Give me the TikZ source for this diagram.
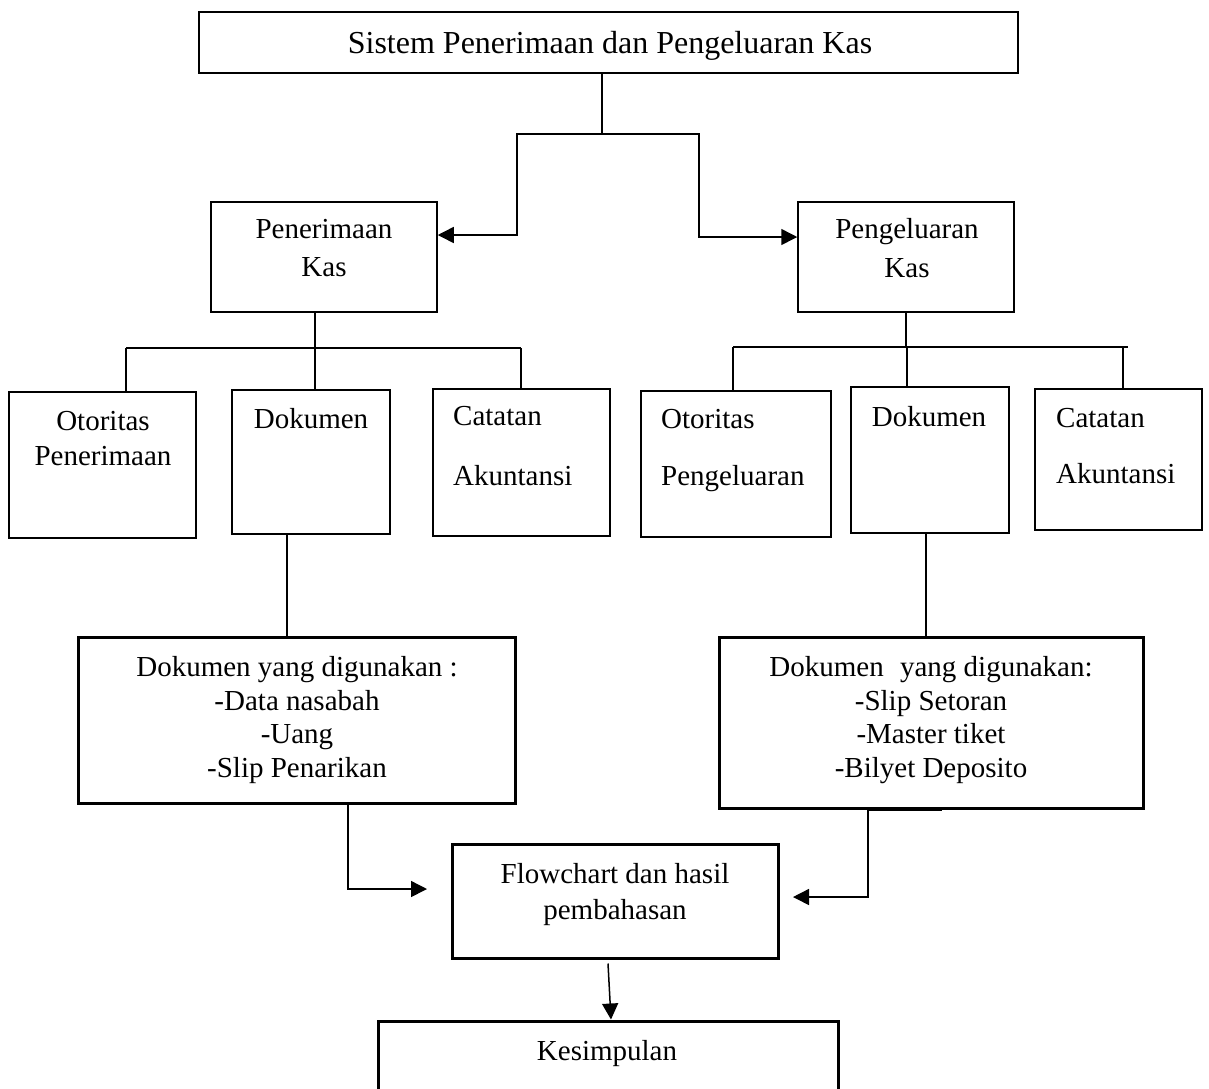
\documentclass[tikz,border=0pt]{standalone}
\usepackage{fontspec}
\setmainfont{Liberation Serif}
\usetikzlibrary{arrows.meta}
\begin{document}
\begin{tikzpicture}[x=1pt,y=-1pt,
  box/.style={draw, line width=1.5pt, inner sep=0pt},
  heavybox/.style={draw, line width=3pt, inner sep=0pt},
  txt/.style={inner sep=0pt, align=center, anchor=north, font=\fontsize{29}{34}\selectfont},
  ltxt/.style={inner sep=0pt, align=left, anchor=north west, font=\fontsize{29}{34}\selectfont},
  conn/.style={line width=1.5pt},
  bus/.style={line width=2.2pt},
  arrow/.style={conn, -{Triangle[length=16pt,width=16pt]}},
]
\useasboundingbox (0,0) rectangle (1209,1088);
\fill[white] (0,0) rectangle (1209,1088);
\clip (0,0) rectangle (1209,1088);

% ---- boxes ----
\node[box, minimum width=819pt, minimum height=61pt] (top) at (608.5,42.5) {};
\node[box, minimum width=226pt, minimum height=110pt] (pen) at (324,257) {};
\node[box, minimum width=216pt, minimum height=110pt] (peng) at (906,257) {};

\node[box, minimum width=187pt, minimum height=146pt] (loto) at (102.5,465) {};
\node[box, minimum width=158pt, minimum height=144pt] (ldok) at (311,462) {};
\node[box, minimum width=177pt, minimum height=147pt] (lcat) at (521.5,462.5) {};

\node[box, minimum width=190pt, minimum height=146pt] (roto) at (736,464) {};
\node[box, minimum width=158pt, minimum height=146pt] (rdok) at (930,460) {};
\node[box, minimum width=167pt, minimum height=141pt] (rcat) at (1118.5,459.5) {};

\node[heavybox, minimum width=437pt, minimum height=166pt] (ldocs) at (296.5,720) {};
\node[heavybox, minimum width=424pt, minimum height=171pt] (rdocs) at (931,722.5) {};
\node[heavybox, minimum width=326pt, minimum height=114pt] (flow) at (615,901) {};
\node[heavybox, minimum width=460pt, minimum height=120pt] (kes) at (608,1081) {};

% ---- labels ----
\node[txt, font=\fontsize{32}{38}\selectfont] (toptxt) at (610,31) {Sistem Penerimaan dan Pengeluaran Kas};
\node[txt, font=\fontsize{29}{38}\selectfont] (pentxt) at (324,219) {Penerimaan\\Kas};
\node[txt, font=\fontsize{29}{39}\selectfont] (pengtxt) at (907,218) {Pengeluaran\\Kas};

\node[txt, font=\fontsize{29}{35}\selectfont] (lototxt) at (103,411) {Otoritas\\Penerimaan};
\node[txt] (ldoktxt) at (311,408) {Dokumen};
\node[ltxt, font=\fontsize{29}{60}\selectfont] (lcattxt) at (453,406) {Catatan\\Akuntansi};

\node[ltxt, font=\fontsize{29}{57}\selectfont] (rototxt) at (661,409) {Otoritas\\Pengeluaran};
\node[txt] (rdoktxt) at (929,406) {Dokumen};
\node[ltxt, font=\fontsize{29}{56}\selectfont] (rcattxt) at (1056,408) {Catatan\\Akuntansi};

\node[txt, font=\fontsize{29}{33.7}\selectfont] (ldocstxt) at (297,656)
  {Dokumen yang digunakan :\\-Data nasabah\\-Uang\\-Slip Penarikan};
\node[txt, font=\fontsize{29}{33.7}\selectfont] (rdocstxt) at (931,656)
  {Dokumen\hspace{9pt} yang digunakan:\\-Slip Setoran\\-Master tiket\\-Bilyet Deposito};
\node[txt, font=\fontsize{29}{36}\selectfont] (flowtxt) at (615,863) {Flowchart dan hasil\\pembahasan};
\node[txt] (kestxt) at (607,1040) {Kesimpulan};

% ---- split from the title box ----
\coordinate (split) at (602,134);
\coordinate (lbend) at (517,235);
\coordinate (rbend) at (699,237);
\draw[conn] (top.south -| split) -- (split);
\draw[arrow] (split) -| (lbend) -- (pen.east |- lbend);
\draw[arrow] (split) -| (rbend) -- (peng.west |- rbend);

% ---- left branch tree ----
\coordinate (lb1) at (126,348);
\coordinate (lb2) at (315,348);
\coordinate (lb3) at (521,348);
\draw[bus] (pen.south -| lb2) -- (lb2);
\draw[bus] (lb1) -- (lb3);
\draw[bus] (lb1) -- (loto.north -| lb1);
\draw[bus] (lb2) -- (ldok.north -| lb2);
\draw[bus] (lb3) -- (lcat.north -| lb3);

% ---- right branch tree ----
\coordinate (rb1) at (733,347);
\coordinate (rb2) at (907,347);
\coordinate (rb3) at (1123,347);
\coordinate (rbe) at (1128,347);
\coordinate (rbt) at (906,347);
\draw[bus] (peng.south -| rbt) -- (rbt);
\draw[bus] (rb1) -- (rbe);
\draw[bus] (rb1) -- (roto.north -| rb1);
\draw[bus] (rb2) -- (rdok.north -| rb2);
\draw[bus] (rb3) -- (rcat.north -| rb3);

% ---- documents ----
\coordinate (ld) at (287,0);
\coordinate (rd) at (926,0);
\draw[conn] (ldok.south -| ld) -- (ldocs.north -| ld);
\draw[conn] (rdok.south -| rd) -- (rdocs.north -| rd);

% ---- into the flowchart box ----
\coordinate (lf) at (348,889);
\coordinate (lfend) at (427,889);
\coordinate (rf) at (868,897);
\coordinate (rfend) at (793,897);
\draw[line width=3.5pt] (868,809.5) -- (942,809.5);
\draw[arrow] (ldocs.south -| lf) -- (lf) -- (lfend);
\draw[arrow] (rdocs.south -| rf) -- (rf) -- (rfend);

% ---- conclusion ----
\draw[arrow] ([xshift=-7pt,yshift=-4pt]flow.south) -- ([xshift=3pt]kes.north);
\end{tikzpicture}
\end{document}
